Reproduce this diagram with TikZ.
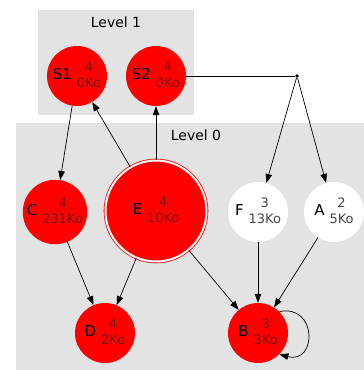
\documentclass[tikz,border=0pt]{standalone}
\usepackage{fontspec}
\setmainfont{DejaVu Sans}
\usetikzlibrary{arrows.meta}

\definecolor{numred}{RGB}{120,20,20}
\definecolor{numgray}{RGB}{70,70,70}
\newcommand{\vtext}[4]{{\fontsize{15}{15}\selectfont #1}\hspace{5pt}{\fontsize{13}{16}\selectfont\begin{tabular}{@{}c@{}}\textcolor{#2}{#3}\\\textcolor{#2}{#4}\end{tabular}}}

\begin{document}
\begin{tikzpicture}[x=1pt,y=-1pt,
	cluster/.style={fill=black!11,draw=none},
	vertex/.style={circle,minimum size=60pt,inner sep=0pt},
	edge/.style={-{Triangle[length=9pt,width=6.5pt]},black,line width=0.7pt}]
	\useasboundingbox (0,0) rectangle (364,370);
	\fill[cluster] (38,10) rectangle (194,115);
	\fill[cluster] (16,123) rectangle (364,370);
	\node[font=\fontsize{14}{14}\selectfont] (l1) at (116,22) {Level 1};
	\node[font=\fontsize{14}{14}\selectfont] (l0) at (196,135) {Level 0};
	\foreach \n/\x/\y/\f/\t/\c/\s in {S1/77/76/red/numred/4/0Ko,S2/156/76/red/numred/4/0Ko,C/55/212/red/numred/4/231Ko,F/258/212/white/numgray/3/13Ko,A/334/212/white/numgray/2/5Ko,D/105/333/red/numred/4/2Ko,B/258/333/red/numred/3/3Ko}
		\node[vertex,fill=\f] (\n) at (\x,\y) {\vtext{\n}{\t}{\c}{\s}};
	\node[vertex,fill=red,draw=red,double=white,double distance=2pt,line width=0.8pt,minimum size=101pt] (E) at (156,211) {\vtext{E}{numred}{4}{10Ko}};
	\node[circle,fill,inner sep=1.3pt] (j) at (297,76) {};
	\draw[black,line width=0.7pt] (S2) -- (j);
	\foreach \a/\b in {S1/C,E/S1,E/S2,C/D,E/D,E/B,F/B,A/B,j/F,j/A} \draw[edge] (\a) -- (\b);
	\draw[edge] (B.45) .. controls +(38,-8) and +(38,10) .. (B.-45);
\end{tikzpicture}
\end{document}
